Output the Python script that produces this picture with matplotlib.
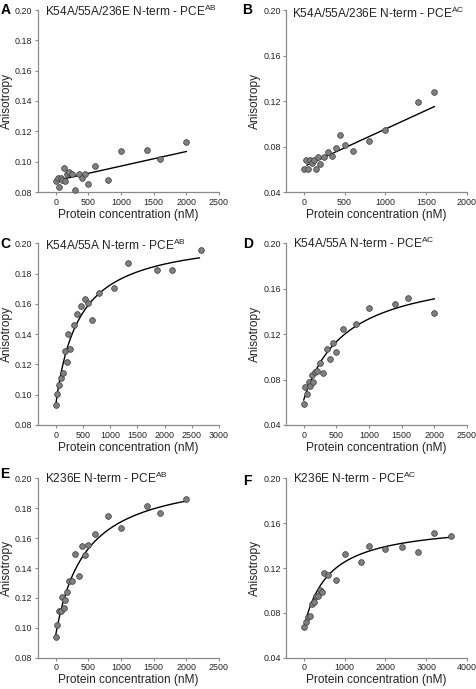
import numpy as np
import matplotlib
matplotlib.use("Agg")
import matplotlib.pyplot as plt

plt.rcParams['font.family'] = ['Liberation Sans', 'DejaVu Sans']
plt.rcParams['mathtext.fontset'] = 'custom'
plt.rcParams['mathtext.rm'] = 'Liberation Sans'
plt.rcParams['mathtext.default'] = 'regular'

# ---------------- data ----------------
titles = ["K54A/55A/236E N-term - PCE$^{AB}$", "K54A/55A/236E N-term - PCE$^{AC}$",
          "K54A/55A N-term - PCE$^{AB}$", "K54A/55A N-term - PCE$^{AC}$",
          "K236E N-term - PCE$^{AB}$", "K236E N-term - PCE$^{AC}$"]
letters = ["A", "B", "C", "D", "E", "F"]

xA = [0, 30, 50, 75, 100, 125, 150, 175, 200, 250, 300, 350, 400, 450, 500, 600, 800, 1000, 1400, 1600, 2000]
yA = [0.087, 0.089, 0.083, 0.089, 0.088, 0.096, 0.087, 0.092, 0.093, 0.092, 0.081, 0.092, 0.089, 0.092,
      0.085, 0.097, 0.088, 0.107, 0.108, 0.102, 0.113]

xB = [0, 25, 50, 75, 100, 125, 150, 175, 200, 250, 300, 350, 400, 450, 500, 600, 800, 1000, 1400, 1600]
yB = [0.0606, 0.0677, 0.0606, 0.0677, 0.0656, 0.0677, 0.0606, 0.0709, 0.0647, 0.0709, 0.0748, 0.0718,
      0.0789, 0.0898, 0.0810, 0.0759, 0.0851, 0.0948, 0.1190, 0.1278]

xC = [0, 33, 66, 100, 133, 166, 200, 233, 266, 333, 400, 466, 533, 600, 666, 800, 1066, 1333, 1866, 2133, 2666]
yC = [0.0932, 0.1003, 0.1062, 0.1113, 0.1146, 0.1292, 0.1216, 0.1403, 0.1302, 0.1463, 0.1531, 0.1584,
      0.1632, 0.1604, 0.1491, 0.1672, 0.1703, 0.1872, 0.1824, 0.1824, 0.1954]

xD = [0, 25, 50, 75, 100, 125, 150, 175, 200, 250, 300, 350, 400, 450, 500, 600, 800, 1000, 1400, 1600, 2000]
yD = [0.0588, 0.0738, 0.0676, 0.0778, 0.0746, 0.0837, 0.0778, 0.0870, 0.0879, 0.0949, 0.0858, 0.1066,
      0.0978, 0.1119, 0.1040, 0.1246, 0.1292, 0.1428, 0.1463, 0.1516, 0.1386]

xE = [0, 25, 50, 75, 100, 125, 150, 175, 200, 250, 300, 350, 400, 450, 500, 600, 800, 1000, 1400, 1600, 2000]
yE = [0.0941, 0.1021, 0.1110, 0.1110, 0.1204, 0.1132, 0.1184, 0.1242, 0.1315, 0.1315, 0.1494, 0.1344,
      0.1545, 0.1485, 0.1554, 0.1625, 0.1746, 0.1665, 0.1817, 0.1768, 0.1859]

xF = [0, 50, 100, 150, 200, 250, 300, 350, 400, 450, 500, 600, 800, 1000, 1400, 1600, 2000, 2400, 2800, 3200, 3600]
yF = [0.0674, 0.0721, 0.0760, 0.0769, 0.0882, 0.0897, 0.0953, 0.0953, 0.1004, 0.0983, 0.1155, 0.1135,
      0.1096, 0.1328, 0.1257, 0.1399, 0.1370, 0.1387, 0.1340, 0.1509, 0.1488]

# fit parameters: linear (intercept, slope, xstart, xend); hyperbola (y0, Bmax, Kd, xend)
fitA = ("lin", 0.0875, 9.6e-6, 100, 2000)
fitB = ("lin", 0.0623, 3.3e-5, 40, 1600)
fitC = ("hyp", 0.093, 0.113, 423, 2640)
fitD = ("hyp", 0.062, 0.118, 650, 2000)
fitE = ("hyp", 0.095, 0.110, 450, 2000)
fitF = ("hyp", 0.066, 0.095, 600, 3600)

xticksA = [0, 500, 1000, 1500, 2000, 2500]
xticksB = [0, 500, 1000, 1500, 2000]
xticksC = [0, 500, 1000, 1500, 2000, 2500, 3000]
xticksF = [0, 1000, 2000, 3000, 4000]
yticks_ab = [0.08, 0.10, 0.12, 0.14, 0.16, 0.18, 0.20]
yticks_ac = [0.04, 0.08, 0.12, 0.16, 0.20]

panels = [
    (xA, yA, fitA, xticksA, (-275, 2500), yticks_ab),
    (xB, yB, fitB, xticksB, (-213, 2000), yticks_ac),
    (xC, yC, fitC, xticksC, (-330, 3000), yticks_ab),
    (xD, yD, fitD, xticksA, (-266, 2500), yticks_ac),
    (xE, yE, fitE, xticksA, (-275, 2500), yticks_ab),
    (xF, yF, fitF, xticksF, (-427, 4000), yticks_ac),
]

W, H = 477, 689
fig = plt.figure(figsize=(W / 100, H / 100), dpi=100)

# pixel layout: (left, top, right, bottom)
boxes = [(37.7, 10, 219, 192), (286.3, 10, 467, 192),
         (37.7, 243.3, 219, 425), (286.3, 243.3, 467, 425),
         (37.7, 478.3, 219, 657.7), (286.3, 478.3, 467, 657.7)]
letter_pos = [(1, 3), (242, 3), (0, 237), (243, 237), (0, 467), (243, 474)]
title_pos = [(45, 16.5), (292, 18), (45, 250), (293, 248), (45, 483), (293, 483)]
ylabel_right = [12.5, 261, 12.5, 261, 12.5, 261]

spine_col = '#8a8a8a'
text_col = '#222222'

for i, (x, y, fit, xt, xl, yt) in enumerate(panels):
    l, t, r, b = boxes[i]
    ax = fig.add_axes([l / W, 1 - b / H, (r - l) / W, (b - t) / H])
    for s in ['top', 'right']:
        ax.spines[s].set_visible(False)
    for s in ['left', 'bottom']:
        ax.spines[s].set_color(spine_col)
        ax.spines[s].set_linewidth(0.9)
    ax.set_xlim(*xl)
    ax.set_ylim(yt[0], yt[-1])
    ax.set_xticks(xt)
    ax.set_yticks(yt)
    ax.set_yticklabels([f"{v:.2f}" for v in yt])
    ax.tick_params(direction='out', length=2.5, width=0.8, color=spine_col,
                   labelsize=6.4, labelcolor=text_col, pad=1.5)

    # fit curve
    if fit[0] == "lin":
        _, b0, m, xs, xe = fit
        xx = np.linspace(xs, xe, 50)
        yy = b0 + m * xx
    else:
        _, y0, bmax, kd, xe = fit
        xx = np.linspace(0, xe, 300)
        yy = y0 + bmax * xx / (kd + xx)
    ax.plot(xx, yy, color='black', lw=1.0, zorder=2)

    ax.scatter(x, y, s=17, facecolor='#7f7f7f', edgecolor='#3a3a3a', linewidth=0.5,
               zorder=3, clip_on=False)

    ax.set_xlabel("Protein concentration (nM)", fontsize=8.6, color=text_col)
    ax.set_ylabel("Anisotropy", fontsize=8.6, color=text_col)
    ax.xaxis.set_label_coords(0.5, -0.093)
    ax.yaxis.set_label_coords((ylabel_right[i] - l) / (r - l), 0.5)

    tx, ty = title_pos[i]
    fig.text(tx / W, 1 - ty / H, titles[i], fontsize=8.6, color=text_col,
             ha='left', va='baseline')
    lx, ly = letter_pos[i]
    fig.text(lx / W, 1 - ly / H, letters[i], fontsize=10, fontweight='bold',
             color='black', ha='left', va='top')

fig.savefig("out.png", dpi=100)
